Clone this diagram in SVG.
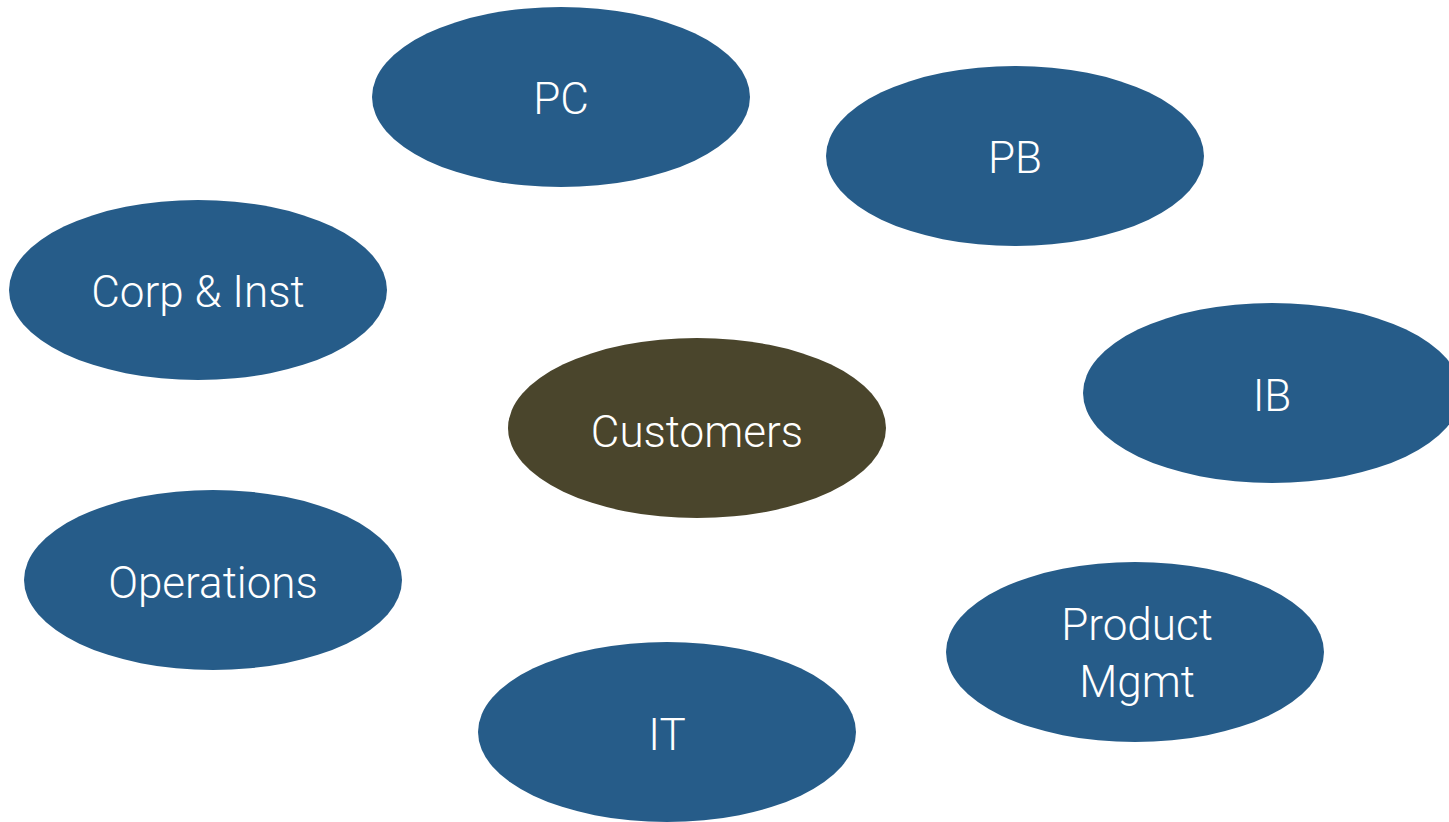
<svg xmlns="http://www.w3.org/2000/svg" width="1449" height="822" viewBox="0 0 1449 822">
<style>
.n{fill:#265c89}
.c{fill:#4a452c}
text{font-family:Roboto,"Liberation Sans",Arial,sans-serif;font-weight:300;font-size:44px;fill:#ffffff;text-anchor:middle}
</style>
<rect width="1449" height="822" fill="#ffffff"/>
<g id="connectors"/>
<g id="pc"><ellipse class="n" cx="561" cy="97" rx="189" ry="90"/><text x="561" y="114">PC</text></g>
<g id="pb"><ellipse class="n" cx="1015" cy="156" rx="189" ry="90"/><text x="1015" y="173">PB</text></g>
<g id="corp"><ellipse class="n" cx="198" cy="290" rx="189" ry="90"/><text x="198" y="307">Corp &amp; Inst</text></g>
<g id="customers"><ellipse class="c" cx="697" cy="428" rx="189" ry="90"/><text x="697" y="447">Customers</text></g>
<g id="ib"><ellipse class="n" cx="1272" cy="393" rx="189" ry="90"/><text x="1272" y="411">IB</text></g>
<g id="operations"><ellipse class="n" cx="213" cy="580" rx="189" ry="90"/><text x="213" y="598">Operations</text></g>
<g id="product"><ellipse class="n" cx="1135" cy="652" rx="189" ry="90"/><text x="1137" y="640">Product</text><text x="1137" y="697">Mgmt</text></g>
<g id="it"><ellipse class="n" cx="667" cy="732" rx="189" ry="90"/><text x="667" y="750">IT</text></g>
</svg>
